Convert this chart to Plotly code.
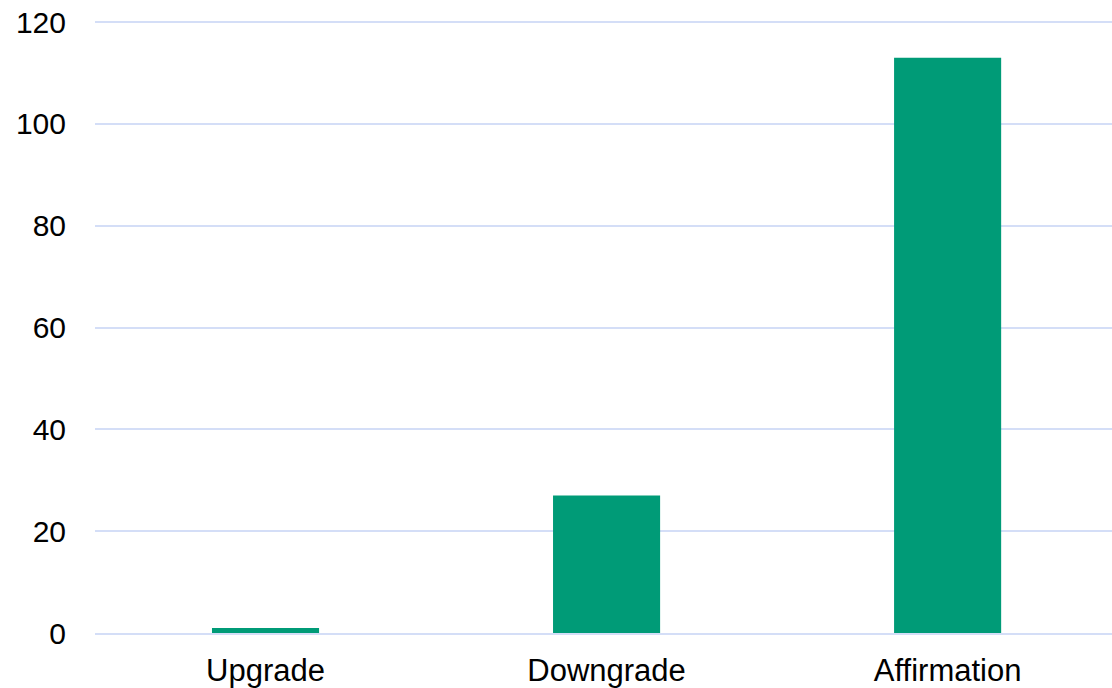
import plotly.graph_objects as go

categories = ["Upgrade", "Downgrade", "Affirmation"]
values = [1, 27, 113]
y_ticks = [0, 20, 40, 60, 80, 100, 120]

fig = go.Figure(go.Bar(x=categories, y=values, width=0.314,
                       marker=dict(color="#009B77", line=dict(width=0))))
fig.update_layout(
    width=1112, height=688,
    margin=dict(l=95, r=0, t=17, b=55, pad=0),
    paper_bgcolor="white", plot_bgcolor="white",
    showlegend=False,
    font=dict(family="Liberation Sans, Arial, sans-serif", size=31, color="#000000"),
)
fig.update_yaxes(range=[0, 121], tickvals=y_ticks, showgrid=True, gridcolor="#D4DEF7", gridwidth=2,
                 zeroline=False, showline=False, ticks="", ticklabelstandoff=28,
                 tickfont=dict(size=30), automargin=False)
fig.update_xaxes(range=[-0.5, 2.482], showline=True, linecolor="#D4DEF7", linewidth=2, ticks="",
                 ticklabelstandoff=9, tickfont=dict(size=31), automargin=False, showgrid=False)
fig.write_html("out.html", config={"displayModeBar": False},
               post_script="document.body.style.margin='0';document.body.style.overflow='hidden';")
